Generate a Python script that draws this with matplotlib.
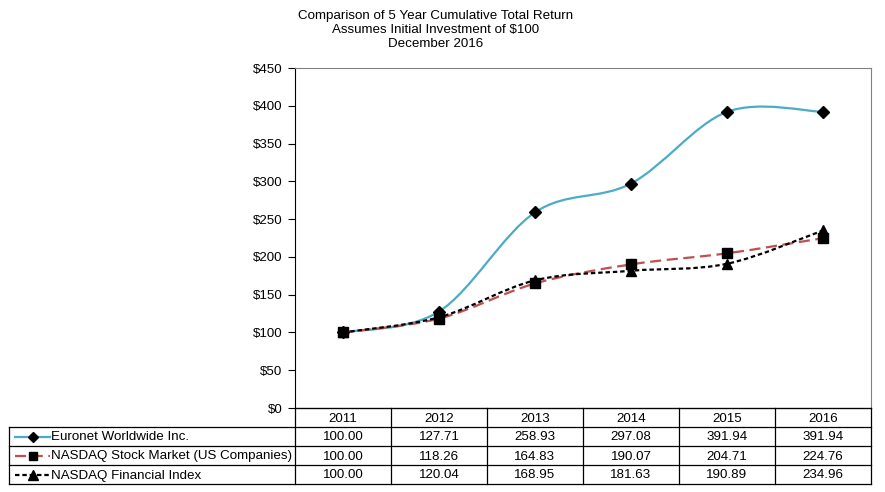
import matplotlib
matplotlib.use("Agg")
import matplotlib.pyplot as plt
import numpy as np
from matplotlib.path import Path
from matplotlib.patches import PathPatch
from matplotlib.lines import Line2D

plt.rcParams['font.family'] = ['Liberation Sans', 'DejaVu Sans']

years = ["2011", "2012", "2013", "2014", "2015", "2016"]
series_names = ["Euronet Worldwide Inc.",
                "NASDAQ Stock Market (US Companies)",
                "NASDAQ Financial Index"]
euronet = [100.00, 127.71, 258.93, 297.08, 391.94, 391.94]
nasdaq_us = [100.00, 118.26, 164.83, 190.07, 204.71, 224.76]
nasdaq_fin = [100.00, 120.04, 168.95, 181.63, 190.89, 234.96]
yticks = [0, 50, 100, 150, 200, 250, 300, 350, 400, 450]
title_lines = ["Comparison of 5 Year Cumulative Total Return",
               "Assumes Initial Investment of $100",
               "December 2016"]

values = [euronet, nasdaq_us, nasdaq_fin]
colors = ["#4BACC6", "#C0504D", "#000000"]
markers = ["D", "s", "^"]
msizes = [6.5, 7, 7.5]
lstyles = ["-", (0, (5, 2.5)), (0, (2, 1.3))]
lwidths = [1.6, 1.6, 1.6]
FS = 9.6

W, H = 885, 492
fig = plt.figure(figsize=(W / 100, H / 100), dpi=100)
L, R, T, B = 295, 871, 68, 408
ax = fig.add_axes([L / W, 1 - B / H, (R - L) / W, (B - T) / H])

n = len(years)
xs = np.arange(n)


def smooth_path(x, y):
    pts = np.column_stack([x, y]).astype(float)
    verts = [pts[0]]
    codes = [Path.MOVETO]
    for i in range(len(pts) - 1):
        p0 = pts[i - 1] if i > 0 else pts[i]
        p1 = pts[i]
        p2 = pts[i + 1]
        p3 = pts[i + 2] if i + 2 < len(pts) else pts[i + 1]
        c1 = p1 + (p2 - p0) / 6.0
        c2 = p2 - (p3 - p1) / 6.0
        verts += [c1, c2, p2]
        codes += [Path.CURVE4] * 3
    return Path(verts, codes)


for vals, c, m, ms, ls, lw in zip(values, colors, markers, msizes, lstyles, lwidths):
    patch = PathPatch(smooth_path(xs, vals), facecolor="none", edgecolor=c,
                      linewidth=lw, linestyle=ls, zorder=2)
    ax.add_patch(patch)
    ax.plot(xs, vals, linestyle="none", marker=m, markersize=ms,
            color="black", zorder=3)

ax.set_xlim(-0.5, n - 0.5)
ax.set_ylim(0, 450)
ax.set_yticks(yticks)
ax.set_yticklabels([f"${v}" for v in yticks], fontsize=FS)
ax.set_xticks([])
ax.tick_params(axis="y", direction="out", length=5, width=0.8, pad=4)
for s in ["top", "right"]:
    ax.spines[s].set_color("#808080")
    ax.spines[s].set_linewidth(0.8)
ax.spines["left"].set_color("black")
ax.spines["bottom"].set_color("black")
ax.spines["left"].set_linewidth(0.8)
ax.spines["bottom"].set_linewidth(0.8)

# Title
for i, t in enumerate(title_lines):
    fig.text(436 / W, 1 - (16 + 14 * i) / H, t, ha="center", va="center", fontsize=FS)


def fx(px):
    return px / W


def fy(py):
    return 1 - py / H


row_edges = [408, 427, 446, 465, 484]
col_edges = [L + i * (R - L) / n for i in range(n + 1)]
lab_left = 9
lk = dict(color="black", linewidth=0.9, transform=fig.transFigure)

fig.add_artist(Line2D([fx(L), fx(R)], [fy(row_edges[0])] * 2, **lk))
for ry in row_edges[1:]:
    fig.add_artist(Line2D([fx(lab_left), fx(R)], [fy(ry)] * 2, **lk))
for cx in col_edges:
    fig.add_artist(Line2D([fx(cx)] * 2, [fy(row_edges[0]), fy(row_edges[-1])], **lk))
fig.add_artist(Line2D([fx(lab_left)] * 2, [fy(row_edges[1]), fy(row_edges[-1])], **lk))

for i, yr in enumerate(years):
    cx = (col_edges[i] + col_edges[i + 1]) / 2
    fig.text(fx(cx), fy((row_edges[0] + row_edges[1]) / 2 + 1), yr,
             ha="center", va="center", fontsize=FS)

for r, (name, vals) in enumerate(zip(series_names, values)):
    cy = (row_edges[r + 1] + row_edges[r + 2]) / 2 + 1
    for i, v in enumerate(vals):
        cx = (col_edges[i] + col_edges[i + 1]) / 2
        fig.text(fx(cx), fy(cy), f"{v:.2f}", ha="center", va="center", fontsize=FS)
    fig.add_artist(Line2D([fx(15), fx(50)], [fy(cy - 1)] * 2, color=colors[r],
                          linewidth=1.6, linestyle=lstyles[r],
                          transform=fig.transFigure))
    fig.add_artist(Line2D([fx(33)], [fy(cy - 1)], color="black", marker=markers[r],
                          markersize=msizes[r] - 1, linestyle="none",
                          transform=fig.transFigure))
    fig.text(fx(51), fy(cy), name, ha="left", va="center", fontsize=FS)

fig.savefig("out.png", dpi=100, facecolor="white")
